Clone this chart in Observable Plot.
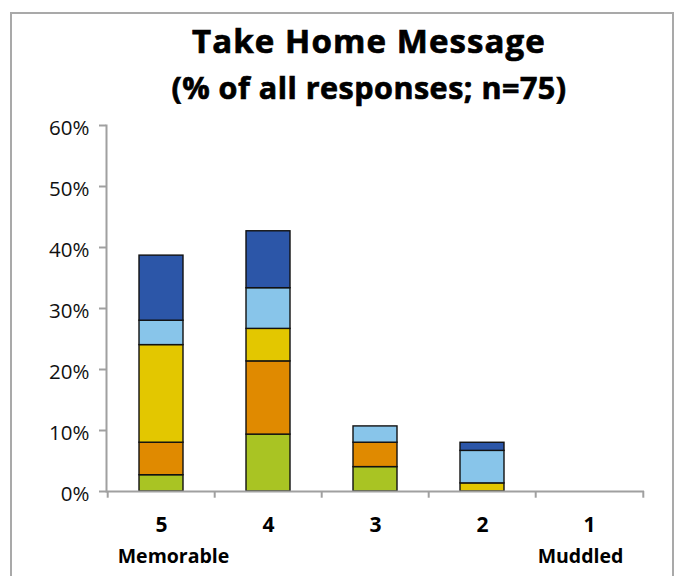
<!DOCTYPE html>
<html>
<head>
<meta charset="utf-8">
<script src="https://cdn.jsdelivr.net/npm/d3@7"></script>
<script src="https://cdn.jsdelivr.net/npm/@observablehq/plot@0.6"></script>
<style>
  html, body { margin: 0; padding: 0; background: #fff; }
  #wrap { position: relative; width: 683px; height: 576px; overflow: hidden; background: #fff; font-family: "Open Sans", sans-serif; }
  #chart { position: absolute; left: 0; top: 0; }
  #border { position: absolute; left: 10px; top: 12px; width: 660px; height: 700px; border: 2px solid #a9a9a9; }
  .ttl { position: absolute; left: 0; width: 738px; text-align: center; font-weight: 700; color: #000; line-height: 1; white-space: nowrap; -webkit-text-stroke: 0.7px #000; }
  #title { top: 24px; font-size: 33px; letter-spacing: 1.1px; }
  #subtitle { top: 72px; font-size: 30.5px; letter-spacing: 0.5px; }
</style>
</head>
<body>
<div id="wrap">
  <div id="chart"></div>
  <div id="border"></div>
  <div id="title" class="ttl">Take Home Message</div>
  <div id="subtitle" class="ttl">(% of all responses; n=75)</div>
</div>
<script>
// Categories (rating) and their end labels
const categories = ["5", "4", "3", "2", "1"];
const endLabels = [{category: "5", label: "Memorable"}, {category: "1", label: "Muddled"}];

// Series, bottom to top of each stack (% of all responses, n=75)
const seriesNames = ["Green", "Orange", "Yellow", "Light blue", "Dark blue"];
const seriesColors = ["#a9c423", "#e08a00", "#e3c700", "#88c5ea", "#2c56a8"];
const green     = [2.67, 9.33, 4.0, 0,    0];
const orange    = [5.33, 12.0, 4.0, 0,    0];
const yellow    = [16.0, 5.33, 0,   1.33, 0];
const lightBlue = [4.0,  6.67, 2.67, 5.33, 0];
const darkBlue  = [10.67, 9.33, 0,  1.33, 0];

// Y axis ticks
const yTicks = [0, 10, 20, 30, 40, 50, 60];

const seriesValues = [green, orange, yellow, lightBlue, darkBlue];
const data = [];
categories.forEach((c, i) => {
  seriesNames.forEach((s, j) => {
    const v = seriesValues[j][i];
    if (v > 0) data.push({category: c, series: s, value: v});
  });
});

const W = 683, H = 576;
const mL = 106, mR = 39, mT = 125, mB = 85;
const step = (W - mL - mR) / categories.length;
const axisGray = "#a0a0a0";

const plot = Plot.plot({
  width: W,
  height: H,
  marginLeft: mL,
  marginRight: mR,
  marginTop: mT,
  marginBottom: mB,
  style: {background: "transparent", fontFamily: "Open Sans, sans-serif", color: "#000"},
  x: {domain: categories, paddingInner: 0.59, paddingOuter: 0.295, axis: null},
  y: {domain: [0, 60], axis: null},
  color: {domain: seriesNames, range: seriesColors},
  marks: [
    Plot.barY(data, {x: "category", y: "value", fill: "series", stroke: "#111", strokeWidth: 1.4}),
    Plot.frame({anchor: "left", stroke: axisGray, strokeWidth: 2}),
    Plot.ruleY([0], {stroke: axisGray, strokeWidth: 2}),
    Plot.axisY({ticks: yTicks, tickSize: 7, text: null, stroke: axisGray, strokeWidth: 2, label: null}),
    Plot.axisY({ticks: yTicks, tickFormat: d => d + "%", tickSize: 0, tickPadding: 17, dy: 3, fontSize: 20.5, fill: "#111", label: null}),
    Plot.ruleX(categories, {x: d => d, dx: -step / 2, y1: 0, y2: -1.1, stroke: axisGray, strokeWidth: 2}),
    Plot.ruleX(categories.slice(-1), {x: d => d, dx: step / 2, y1: 0, y2: -1.1, stroke: axisGray, strokeWidth: 2}),
    Plot.text(categories, {x: d => d, y: 0, dy: 34, text: d => d, fontSize: 21, fontWeight: "bold", fill: "#000"}),
    Plot.text(endLabels.slice(0, 1), {x: "category", y: 0, dy: 65, dx: 12, text: "label", fontSize: 19.5, fontWeight: "bold", fill: "#000"}),
    Plot.text(endLabels.slice(1), {x: "category", y: 0, dy: 65, dx: -9, text: "label", fontSize: 19.5, fontWeight: "bold", fill: "#000"})
  ]
});
document.getElementById("chart").appendChild(plot);
</script>
</body>
</html>
